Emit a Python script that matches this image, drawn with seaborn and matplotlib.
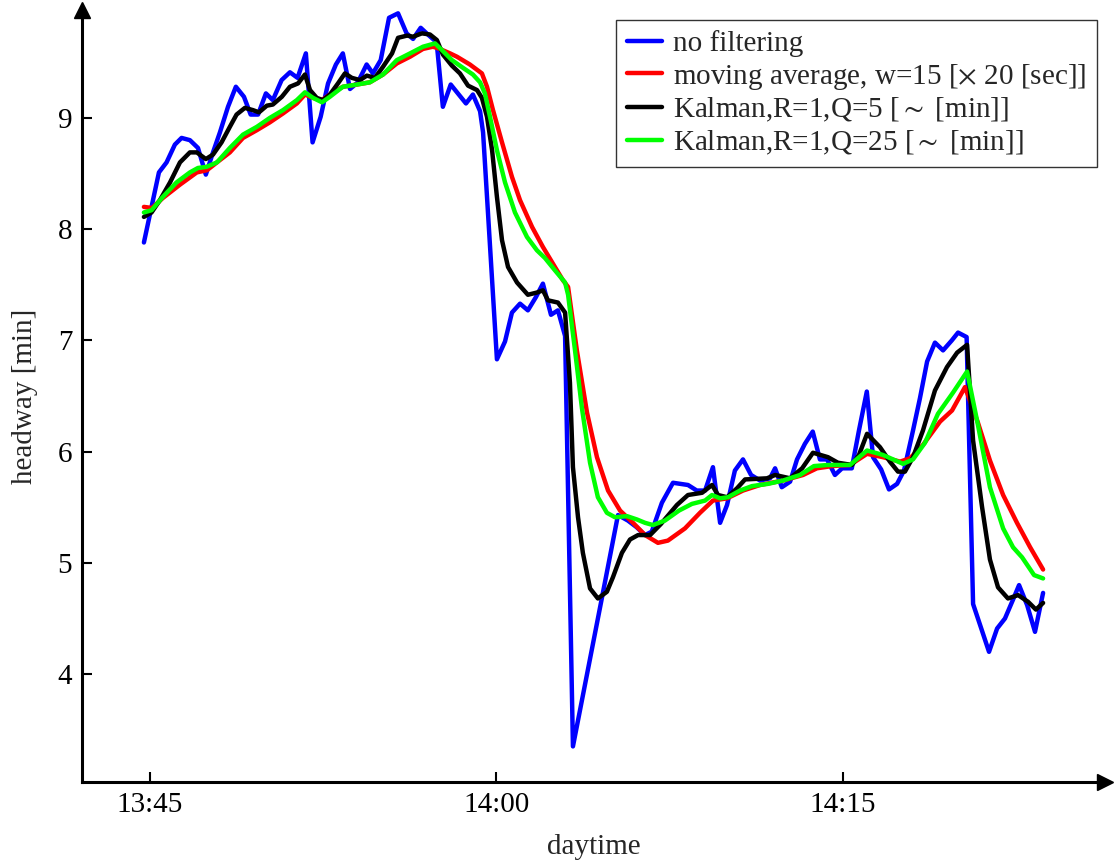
import matplotlib
matplotlib.use("Agg")
import matplotlib.pyplot as plt
import seaborn as sns
import pandas as pd

# time axis: minutes after 13:45
raw_t = [-0.26, 0.07, 0.39, 0.72, 1.08, 1.37, 1.73, 2.08, 2.42, 2.73, 3.03, 3.38, 3.72, 4.07,
         4.36, 4.68, 5.02, 5.32, 5.70, 6.06, 6.39, 6.75, 7.04, 7.39, 7.71, 8.05, 8.35, 8.66,
         9.00, 9.38, 9.65, 9.99, 10.35, 10.74, 11.11, 11.39, 11.72, 12.03, 12.41, 12.68, 13.02,
         13.33, 13.68, 13.98, 14.29, 14.42, 15.02, 15.37, 15.67, 16.02, 16.36, 16.71, 17.01,
         17.36, 17.66, 17.97, 18.31, 19.55, 20.26, 20.69, 21.07, 21.43, 21.72, 22.16, 22.64,
         23.29, 23.67, 24.03, 24.37, 24.68, 24.98, 25.32, 25.67, 26.02, 26.41, 26.84, 27.06,
         27.35, 27.71, 28.01, 28.35, 28.69, 29.00, 29.31, 29.65, 29.96, 30.38, 30.69, 31.03,
         31.30, 31.65, 31.99, 32.34, 32.64, 33.03, 33.33, 33.64, 33.98, 34.33, 34.71, 34.98,
         35.35, 35.63, 36.00, 36.32, 36.67, 37.01, 37.36, 37.62, 37.97, 38.31, 38.66]
raw_v = [7.88, 8.20, 8.51, 8.60, 8.76, 8.82, 8.80, 8.73, 8.49, 8.69, 8.87, 9.10, 9.28, 9.19,
         9.03, 9.03, 9.22, 9.16, 9.34, 9.41, 9.36, 9.58, 8.78, 9.01, 9.31, 9.48, 9.58, 9.26,
         9.32, 9.48, 9.40, 9.52, 9.90, 9.94, 9.76, 9.71, 9.81, 9.75, 9.68, 9.10, 9.30,
         9.22, 9.13, 9.21, 9.06, 8.87, 6.83, 6.99, 7.25, 7.33, 7.27, 7.39, 7.51,
         7.23, 7.27, 7.04, 3.35, 4.67, 5.43, 5.38, 5.32, 5.25, 5.28, 5.54, 5.72,
         5.70, 5.65, 5.65, 5.86, 5.36, 5.52, 5.83, 5.93, 5.79, 5.74, 5.76, 5.85,
         5.68, 5.73, 5.93, 6.07, 6.18, 5.93, 5.93, 5.79, 5.85, 5.85, 6.19, 6.54,
         5.95, 5.84, 5.66, 5.71, 5.83, 6.19, 6.48, 6.81, 6.98, 6.91, 7.00, 7.07,
         7.03, 4.63, 4.40, 4.20, 4.41, 4.50, 4.67, 4.80, 4.62, 4.38, 4.73]

ma_t = [-0.26, 0.09, 0.56, 1.30, 2.03, 2.47, 2.90, 3.46, 4.03, 4.63, 5.19, 5.76, 6.36, 6.71,
        7.06, 7.45, 7.79, 8.35, 8.96, 9.52, 10.09, 10.69, 11.26, 11.82, 12.25, 12.55, 12.99,
        13.29, 13.85, 14.37, 14.59, 14.85, 15.24, 15.67, 16.02, 16.54, 17.01, 17.53, 17.88,
        18.10, 18.48, 18.92, 19.35, 19.83, 20.35, 20.91, 21.43, 21.99, 22.42, 23.16, 23.81,
        24.37, 24.98, 25.67, 26.41, 27.40, 28.27, 28.87, 29.52, 30.30, 31.04, 31.73, 32.47,
        32.90, 33.46, 34.20, 34.72, 35.28, 35.84, 36.36, 36.93, 37.53, 38.10, 38.66]
ma_v = [8.20, 8.19, 8.28, 8.40, 8.51, 8.53, 8.60, 8.69, 8.82, 8.89, 8.96, 9.04, 9.13, 9.21,
        9.18, 9.16, 9.21, 9.28, 9.30, 9.32, 9.39, 9.49, 9.55, 9.62, 9.64, 9.62, 9.58,
        9.55, 9.48, 9.40, 9.28, 9.07, 8.78, 8.47, 8.26, 8.02, 7.84, 7.66, 7.54,
        7.48, 6.91, 6.35, 5.95, 5.65, 5.47, 5.36, 5.25, 5.18, 5.20, 5.31, 5.45,
        5.56, 5.58, 5.65, 5.70, 5.74, 5.79, 5.85, 5.87, 5.88, 5.98, 5.95, 5.91,
        5.94, 6.06, 6.27, 6.37, 6.58, 6.26, 5.92, 5.61, 5.36, 5.14, 4.94]

k5_t = [-0.26, 0.07, 0.43, 0.87, 1.30, 1.73, 2.03, 2.42, 2.73, 3.10, 3.46, 3.75, 4.11, 4.46,
        4.72, 5.06, 5.32, 5.71, 6.06, 6.41, 6.71, 6.93, 7.22, 7.49, 7.79, 8.14, 8.44, 8.74,
        9.09, 9.39, 9.74, 10.09, 10.48, 10.74, 11.13, 11.39, 11.77, 12.12, 12.42, 12.68,
        13.07, 13.42, 13.77, 14.16, 14.37, 14.59, 14.81, 15.02, 15.24, 15.50, 15.89, 16.36,
        16.75, 17.01, 17.23, 17.66, 17.97, 18.18, 18.31, 18.53, 18.74, 19.05, 19.39, 19.78,
        20.04, 20.43, 20.78, 21.13, 21.65, 22.12, 22.81, 23.29, 23.90, 24.33, 24.59, 24.98,
        25.41, 25.76, 26.71, 27.06, 27.71, 28.23, 28.70, 29.35, 29.78, 30.39, 30.69, 31.04,
        31.60, 32.03, 32.38, 32.68, 33.03, 33.46, 33.98, 34.50, 34.94, 35.37, 35.63, 36.02,
        36.36, 36.71, 37.14, 37.58, 38.01, 38.35, 38.66]
k5_v = [8.11, 8.15, 8.26, 8.42, 8.60, 8.69, 8.69, 8.63, 8.67, 8.78, 8.92, 9.03, 9.09, 9.07,
        9.05, 9.11, 9.12, 9.19, 9.28, 9.31, 9.39, 9.25, 9.18, 9.16, 9.21, 9.31, 9.40, 9.36,
        9.34, 9.38, 9.36, 9.46, 9.58, 9.72, 9.74, 9.73, 9.76, 9.75, 9.70, 9.57,
        9.47, 9.40, 9.29, 9.25, 9.18, 9.01, 8.71, 8.29, 7.90, 7.66, 7.52, 7.41,
        7.43, 7.45, 7.36, 7.34, 7.25, 6.62, 5.86, 5.41, 5.09, 4.77, 4.68, 4.74,
        4.87, 5.09, 5.21, 5.25, 5.25, 5.35, 5.52, 5.61, 5.63, 5.70, 5.61, 5.59,
        5.67, 5.75, 5.76, 5.79, 5.76, 5.85, 5.99, 5.95, 5.90, 5.88, 5.97, 6.16,
        6.04, 5.91, 5.82, 5.82, 5.95, 6.19, 6.55, 6.76, 6.89, 6.96, 6.10, 5.50,
        5.03, 4.78, 4.68, 4.71, 4.65, 4.58, 4.64]

k25_t = [-0.26, 0.07, 0.56, 1.15, 1.73, 2.08, 2.45, 2.90, 3.46, 4.03, 4.63, 5.19, 5.76, 6.36,
         6.71, 7.06, 7.45, 7.79, 8.35, 8.96, 9.52, 10.09, 10.69, 11.26, 11.82, 12.34, 12.64,
         13.07, 13.55, 13.98, 14.29, 14.50, 14.72, 15.02, 15.37, 15.80, 16.32, 16.75, 17.10,
         17.53, 17.97, 18.10, 18.40, 18.70, 19.05, 19.39, 19.78, 20.13, 20.65, 21.08, 21.43,
         21.77, 22.29, 22.90, 23.46, 24.03, 24.33, 24.68, 25.02, 25.54, 26.06, 26.75, 27.40,
         28.14, 28.74, 29.35, 30.30, 31.04, 31.73, 32.60, 33.03, 33.55, 34.11, 34.76, 35.37,
         35.84, 36.36, 36.93, 37.36, 37.75, 38.27, 38.66]
k25_v = [8.15, 8.17, 8.29, 8.42, 8.51, 8.55, 8.56, 8.60, 8.73, 8.85, 8.92, 9.00, 9.07, 9.16,
         9.23, 9.18, 9.14, 9.19, 9.28, 9.30, 9.32, 9.39, 9.52, 9.58, 9.64, 9.67, 9.61,
         9.52, 9.45, 9.39, 9.32, 9.22, 9.01, 8.71, 8.42, 8.15, 7.93, 7.81, 7.74,
         7.63, 7.52, 7.41, 6.91, 6.39, 5.90, 5.59, 5.45, 5.41, 5.42, 5.39, 5.36,
         5.34, 5.38, 5.47, 5.53, 5.56, 5.61, 5.58, 5.59, 5.65, 5.69, 5.71, 5.74,
         5.79, 5.87, 5.88, 5.88, 6.01, 5.97, 5.89, 5.93, 6.08, 6.34, 6.53, 6.72,
         6.24, 5.68, 5.31, 5.14, 5.05, 4.89, 4.86]

series_labels = ["no filtering",
                 r"moving average, w=15 [$\times$ 20 [sec]]",
                 r"Kalman,R=1,Q=5 [$\sim$ [min]]",
                 r"Kalman,R=1,Q=25 [$\sim$ [min]]"]
series_colors = ["#0000ff", "#ff0000", "#000000", "#00ff00"]

tick_pos = [0, 15, 30]
tick_text = ["13:45", "14:00", "14:15"]
y_ticks = [4, 5, 6, 7, 8, 9]

sns.set_theme(style="white")
plt.rcParams["font.family"] = ["Liberation Serif", "DejaVu Serif"]
plt.rcParams["mathtext.fontset"] = "stix"

FS = 21

fig = plt.figure(figsize=(11.17, 8.61), dpi=100)
ax = fig.add_axes([82 / 1117, 79 / 861, 1023 / 1117, 772 / 861])

series = [(raw_t, raw_v), (ma_t, ma_v), (k5_t, k5_v), (k25_t, k25_v)]
for (t, v), lab, col in zip(series, series_labels, series_colors):
    df = pd.DataFrame({"t": t, "v": v})
    sns.lineplot(data=df, x="t", y="v", color=col, linewidth=3.2, label=lab,
                 estimator=None, sort=False, ax=ax)

ax.set_xlim(-2.94, 41.34)
ax.set_ylim(3.03, 9.97)
ax.set_xticks(tick_pos)
ax.set_xticklabels(tick_text)
ax.set_yticks(y_ticks)
ax.set_xlabel("daytime", fontsize=FS, labelpad=12)
ax.set_ylabel("headway [min]", fontsize=FS, labelpad=14)
ax.tick_params(axis="both", direction="in", length=7, width=1.5, labelsize=FS,
               pad=7, color="black", labelcolor="black")
ax.tick_params(axis="both", bottom=True, left=True)

for side in ("top", "right"):
    ax.spines[side].set_visible(False)
for side in ("left", "bottom"):
    ax.spines[side].set_linewidth(2.2)
    ax.spines[side].set_color("black")

# arrow heads on the axes
ax.plot(1, 0, ">", color="black", markersize=11, transform=ax.transAxes, clip_on=False)
ax.plot(0, 1, "^", color="black", markersize=11, transform=ax.transAxes, clip_on=False)

leg = ax.legend(loc="upper right", bbox_to_anchor=(0.992, 0.987), borderaxespad=0,
                fontsize=FS, frameon=True, fancybox=False, handlelength=1.2,
                handletextpad=0.4, labelspacing=0.15, borderpad=0.35)
leg.get_frame().set_edgecolor("black")
leg.get_frame().set_linewidth(1.0)
for line in leg.get_lines():
    line.set_linewidth(3.2)

fig.savefig("out.png", dpi=100)
